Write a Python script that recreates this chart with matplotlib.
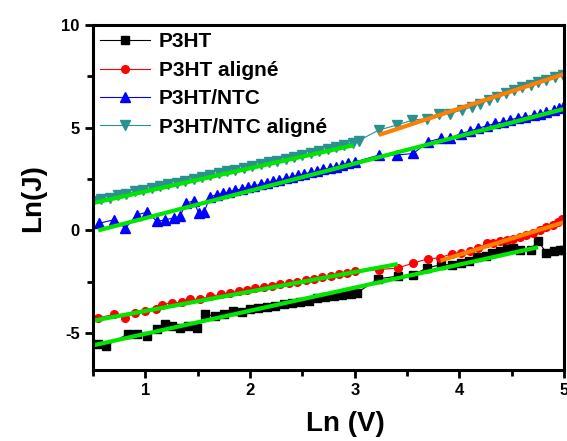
import numpy as np
import matplotlib
matplotlib.use("Agg")
import matplotlib.pyplot as plt
from matplotlib.ticker import MultipleLocator

plt.rcParams['font.family'] = ['Liberation Sans', 'DejaVu Sans']
plt.rcParams['font.weight'] = 'bold'
plt.rcParams['axes.unicode_minus'] = False

# P3HT (carrés noirs)
p3ht_x = [0.55, 0.62, 0.83, 0.92, 1.02, 1.11, 1.19, 1.25, 1.33, 1.41, 1.49, 1.57, 1.67, 1.75, 1.84,
          1.92, 2.00, 2.08, 2.16, 2.24, 2.32, 2.40, 2.48, 2.56, 2.64, 2.72, 2.80, 2.88, 2.96, 3.02,
          3.22, 3.41, 3.56, 3.69, 3.82, 3.93, 4.01, 4.09, 4.17, 4.25, 4.31, 4.39, 4.45, 4.51, 4.58,
          4.68, 4.75, 4.83, 4.90, 4.96, 5.00]
p3ht_y = [-5.55, -5.62, -5.06, -5.03, -5.15, -4.82, -4.58, -4.66, -4.74, -4.66, -4.74, -4.09, -4.17, -4.09, -3.93,
          -3.98, -3.85, -3.80, -3.72, -3.70, -3.60, -3.55, -3.50, -3.42, -3.30, -3.25, -3.20, -3.15, -3.10, -3.05,
          -2.36, -2.23, -2.15, -1.83, -1.67, -1.67, -1.59, -1.50, -1.31, -1.26, -1.10, -1.02, -0.86, -0.86, -0.94,
          -0.94, -0.50, -1.10, -1.02, -0.97, -0.97]

# P3HT aligné (cercles rouges)
p3ht_al_x = [0.55, 0.70, 0.81, 0.90, 1.00, 1.10, 1.16, 1.25, 1.35, 1.43, 1.52, 1.62, 1.72, 1.81, 1.89,
             1.97, 2.05, 2.13, 2.21, 2.29, 2.37, 2.45, 2.53, 2.61, 2.69, 2.77, 2.85, 2.93, 3.00,
             3.23, 3.41, 3.56, 3.70, 3.81, 3.93, 4.01, 4.10, 4.18, 4.26, 4.32, 4.39, 4.45, 4.51, 4.58,
             4.64, 4.70, 4.77, 4.83, 4.89, 4.94, 4.98]
p3ht_al_y = [-4.26, -4.09, -4.26, -4.01, -3.93, -3.85, -3.61, -3.53, -3.50, -3.36, -3.36, -3.20, -3.12, -3.04, -2.96,
             -2.90, -2.82, -2.76, -2.70, -2.62, -2.56, -2.50, -2.42, -2.36, -2.28, -2.22, -2.14, -2.08, -2.00,
             -1.91, -1.83, -1.59, -1.38, -1.34, -1.13, -1.10, -1.02, -0.86, -0.62, -0.62, -0.53, -0.45, -0.40, -0.30,
             -0.20, -0.12, 0.00, 0.15, 0.28, 0.42, 0.55]

# P3HT/NTC (triangles bleus)
ntc_x = [0.56, 0.70, 0.81, 0.92, 1.02, 1.11, 1.19, 1.27, 1.33, 1.39, 1.46, 1.51, 1.56, 1.62,
         1.68, 1.74, 1.80, 1.86, 1.92, 1.98, 2.04, 2.10, 2.16, 2.22, 2.28, 2.34, 2.40, 2.46, 2.52,
         2.58, 2.64, 2.70, 2.76, 2.82, 2.88, 2.94, 3.00,
         3.23, 3.40, 3.56, 3.70, 3.82, 3.91, 4.01, 4.10, 4.18, 4.26, 4.34, 4.42, 4.48, 4.56, 4.63,
         4.71, 4.77, 4.83, 4.90, 4.95, 5.00]
ntc_y = [0.35, 0.52, 0.11, 0.76, 0.89, 0.44, 0.52, 0.60, 0.68, 1.33, 1.44, 0.84, 0.89, 1.65,
         1.73, 1.80, 1.88, 1.95, 2.02, 2.10, 2.17, 2.25, 2.32, 2.39, 2.46, 2.54, 2.61, 2.68, 2.75,
         2.83, 2.90, 2.97, 3.04, 3.11, 3.18, 3.26, 3.33,
         3.67, 3.67, 3.75, 4.32, 4.48, 4.48, 4.72, 4.84, 4.97, 5.10, 5.21, 5.29, 5.37, 5.49, 5.53,
         5.62, 5.69, 5.78, 5.86, 5.94, 6.10]

# P3HT/NTC aligné (triangles inversés cyan)
ntc_al_x = [0.50, 0.58, 0.66, 0.74, 0.82, 0.90, 0.98, 1.06, 1.14, 1.22, 1.30, 1.38, 1.46, 1.54, 1.62,
            1.70, 1.78, 1.86, 1.94, 2.02, 2.10, 2.18, 2.26, 2.34, 2.42, 2.50, 2.58, 2.66, 2.74, 2.82,
            2.90, 2.98, 3.04,
            3.23, 3.40, 3.55, 3.69, 3.80, 3.91, 4.02, 4.12, 4.20, 4.28, 4.36, 4.44, 4.52, 4.60, 4.68,
            4.75, 4.83, 4.91, 4.99]
ntc_al_y = [1.45, 1.52, 1.60, 1.72, 1.78, 1.90, 1.98, 2.06, 2.16, 2.25, 2.33, 2.42, 2.52, 2.60, 2.70,
            2.78, 2.88, 2.96, 3.05, 3.14, 3.22, 3.31, 3.40, 3.49, 3.58, 3.66, 3.76, 3.85, 3.95, 4.05,
            4.15, 4.27, 4.38,
            4.89, 5.13, 5.37, 5.45, 5.69, 5.69, 5.86, 6.02, 6.18, 6.34, 6.50, 6.67, 6.83, 6.99, 7.07,
            7.23, 7.32, 7.48, 7.59]

# droites d'ajustement (extrémités)
fit_green_x = [[0.50, 4.75], [0.50, 3.41], [0.55, 5.00], [0.50, 2.99]]
fit_green_y = [[-5.60, -0.82], [-4.40, -1.64], [0.00, 5.92], [1.33, 4.15]]
fit_orange_x = [[3.82, 5.00], [3.23, 5.00]]
fit_orange_y = [[-1.47, 0.40], [4.65, 7.62]]

fig = plt.figure(figsize=(5.67, 4.41), dpi=100)
ax = fig.add_axes([0.164, 0.161, 0.831, 0.782])

ms = 5.5
ax.plot(p3ht_x, p3ht_y, color='black', marker='s', ms=ms, lw=0.8, label='P3HT')
ax.plot(p3ht_al_x, p3ht_al_y, color='red', marker='o', ms=ms, lw=0.8, label='P3HT aligné')
ax.plot(ntc_x, ntc_y, color='blue', marker='^', ms=ms + 1, lw=0.8, label='P3HT/NTC')
ax.plot(ntc_al_x, ntc_al_y, color='#2a9090', marker='v', ms=ms + 1, lw=0.8, label='P3HT/NTC aligné')

for fx, fy in zip(fit_green_x, fit_green_y):
    ax.plot(fx, fy, color='#00e600', lw=3, solid_capstyle='butt')
for fx, fy in zip(fit_orange_x, fit_orange_y):
    ax.plot(fx, fy, color='#ff8000', lw=3, solid_capstyle='butt')

ax.set_xlim(0.5, 5.0)
ax.set_ylim(-6.8, 10)
ax.xaxis.set_major_locator(MultipleLocator(1))
ax.xaxis.set_minor_locator(MultipleLocator(0.5))
ax.yaxis.set_major_locator(MultipleLocator(5))
ax.yaxis.set_minor_locator(MultipleLocator(2.5))
ax.tick_params(which='both', direction='out', width=2, labelsize=12)
ax.tick_params(which='major', length=6)
ax.tick_params(which='minor', length=4)
for sp in ax.spines.values():
    sp.set_linewidth(2.2)

ax.set_xlabel('Ln (V)', fontsize=20, fontweight='bold')
ax.set_ylabel('Ln(J)', fontsize=20, fontweight='bold')
ax.xaxis.set_label_coords(0.535, -0.12)
ax.yaxis.set_label_coords(-0.10, 0.5)

ax.legend(loc='upper left', bbox_to_anchor=(0.0, 1.0), frameon=False, numpoints=1,
          fontsize=15, handlelength=2.4, handletextpad=0.4, labelspacing=0.45,
          borderaxespad=0.2, borderpad=0.15)

plt.savefig('out.png', dpi=100)
plt.close()
